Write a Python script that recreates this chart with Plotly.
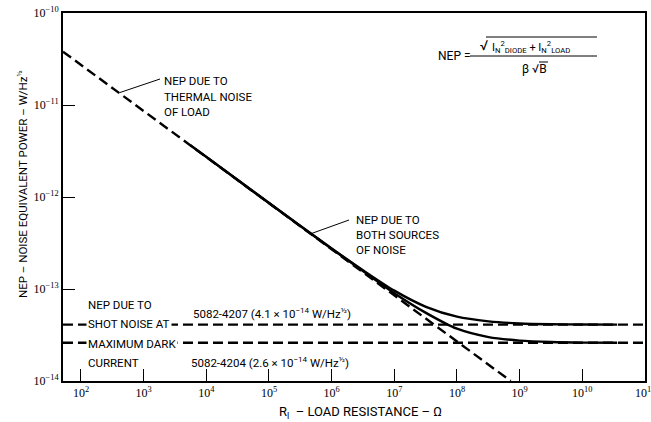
import plotly.graph_objects as go

# ---- data ----
R_thermal = [51.6, 7.2e8]
NEP_thermal = [3.8e-11, 1.0e-14]

R_shot = [51.6, 1e11]
NEP_shot_4207 = [4.1e-14, 4.1e-14]
NEP_shot_4204 = [2.6e-14, 2.6e-14]

R_both = [5.6e3, 1e4, 1e5, 1e6, 3.2e6, 1e7, 3.2e7, 1e8, 3.2e8, 1e9, 3.2e9, 1e10, 3.6e10]
NEP_both_4207 = [3.64e-12, 2.73e-12, 8.6e-13, 2.76e-13, 1.59e-13, 9.6e-14, 6.4e-14,
                 5.0e-14, 4.45e-14, 4.22e-14, 4.14e-14, 4.11e-14, 4.1e-14]
NEP_both_4204 = [3.64e-12, 2.73e-12, 8.6e-13, 2.74e-13, 1.56e-13, 9.0e-14, 5.5e-14,
                 3.7e-14, 3.0e-14, 2.75e-14, 2.65e-14, 2.61e-14, 2.6e-14]

x_tickvals = [1e2, 1e3, 1e4, 1e5, 1e6, 1e7, 1e8, 1e9, 1e10, 1e11]
x_ticktext = ["10<sup>2</sup>", "10<sup>3</sup>", "10<sup>4</sup>", "10<sup>5</sup>",
              "10<sup>6</sup>", "10<sup>7</sup>", "10<sup>8</sup>", "10<sup>9</sup>",
              "10<sup>10</sup>", "10<sup>11</sup>"]
y_tickvals = [1e-14, 1e-13, 1e-12, 1e-11, 1e-10]
y_ticktext = ["10<sup>−14</sup>", "10<sup>−13</sup>", "10<sup>−12</sup>",
              "10<sup>−11</sup>", "10<sup>−10</sup>"]

SANS = "Roboto, Liberation Sans, sans-serif"
SERIF = "Liberation Serif, Times New Roman, serif"
DASH = "10px,5px"

fig = go.Figure()
fig.add_trace(go.Scatter(x=R_thermal, y=NEP_thermal, mode="lines",
                         line=dict(color="black", width=2.4, dash=DASH)))
fig.add_trace(go.Scatter(x=R_shot, y=NEP_shot_4207, mode="lines",
                         line=dict(color="black", width=2.4, dash=DASH)))
fig.add_trace(go.Scatter(x=R_shot, y=NEP_shot_4204, mode="lines",
                         line=dict(color="black", width=2.4, dash=DASH)))
fig.add_trace(go.Scatter(x=R_both, y=NEP_both_4207, mode="lines",
                         line=dict(color="black", width=2.4, shape="spline", smoothing=0.8)))
fig.add_trace(go.Scatter(x=R_both, y=NEP_both_4204, mode="lines",
                         line=dict(color="black", width=2.4, shape="spline", smoothing=0.8)))

L, R, T, B = 63, 6, 13, 41
W, H = 651, 422
PW, PH = W - L - R, H - T - B


def px(x):
    return (x - L) / PW


def py(y):
    return (H - B - y) / PH


def note(text, x, y, xanchor="left", size=11.5, bg=None, font=SANS, **kw):
    fig.add_annotation(text=text, xref="paper", yref="paper", x=px(x), y=py(y),
                       xanchor=xanchor, yanchor="middle", showarrow=False,
                       font=dict(family=font, size=size, color="black"),
                       bgcolor=bg, borderpad=1, **kw)


for i, t in enumerate(["NEP DUE TO", "THERMAL NOISE", "OF LOAD"]):
    note(t, 162, 81 + i * 15.5)
for i, t in enumerate(["NEP DUE TO", "BOTH SOURCES", "OF NOISE"]):
    note(t, 354, 220 + i * 15)
for i, t in enumerate(["NEP DUE TO", "SHOT NOISE AT", "MAXIMUM DARK", "CURRENT"]):
    note(t, 86, 305 + i * 19.4, bg="white")

note("5082-4207 (4.1 × 10<sup>−14</sup> W/Hz<sup>½</sup>)", 191, 313)
note("5082-4204 (2.6 × 10<sup>−14</sup> W/Hz<sup>½</sup>)", 189, 362)

# formula
note("NEP =", 436, 56, size=12)
note("√", 478, 45, size=14)
note("I<sub>N</sub><sup>2</sup><sub>DIODE</sub> + I<sub>N</sub><sup>2</sup><sub>LOAD</sub>", 490, 47, size=11)
note("β √B", 520, 69, size=12)

shape_lines = [
    (470, 56, 597, 56),   # fraction bar
    (486, 37, 597, 37),   # radical overline
    (539, 62, 548, 62),   # sqrt B overline
    (120, 92.5, 160, 79),  # thermal leader
    (311.5, 233.5, 349, 220),  # both sources leader
]
for x0, y0, x1, y1 in shape_lines:
    fig.add_shape(type="line", xref="paper", yref="paper",
                  x0=px(x0), y0=py(y0), x1=px(x1), y1=py(y1),
                  line=dict(color="black", width=1))

# axis titles
note("NEP – NOISE EQUIVALENT POWER – W/Hz<sup>½</sup>", 22, 184, xanchor="center",
     size=11.5, textangle=-90)
note("R<sub>l</sub>  – LOAD RESISTANCE – Ω", 360, 412, xanchor="center", size=13)

axis_common = dict(showline=True, linecolor="black", linewidth=2, mirror=True,
                   ticks="inside", ticklen=12, tickwidth=1.3, tickcolor="black",
                   showgrid=False, zeroline=False, automargin=False,
                   ticklabeloverflow="allow",
                   tickfont=dict(family=SERIF, size=12, color="black"))
fig.update_xaxes(type="log", range=[1.713, 11.0005], tickvals=x_tickvals,
                 ticktext=x_ticktext, **axis_common)
fig.update_yaxes(type="log", range=[-14, -10], tickvals=y_tickvals,
                 ticktext=y_ticktext, **axis_common)

fig.update_layout(width=W, height=H, margin=dict(l=L, r=R, t=T, b=B),
                  paper_bgcolor="white", plot_bgcolor="white", showlegend=False)

fig.write_html("out.html", config={"displayModeBar": False},
               post_script="document.body.style.margin='0';document.body.style.overflow='hidden';")
